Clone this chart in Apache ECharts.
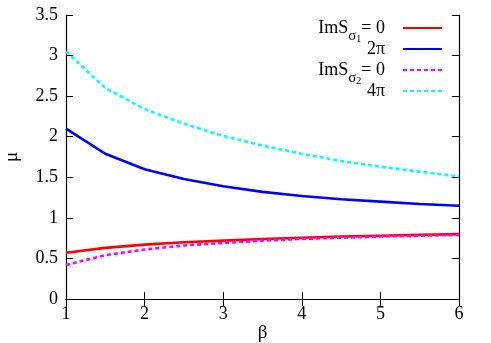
<!DOCTYPE html>
<html>
<head>
<meta charset="utf-8">
<script src="https://cdn.jsdelivr.net/npm/echarts@6/dist/echarts.min.js"></script>
<style>
  html, body { margin: 0; padding: 0; background: #fff; }
  #chart { width: 491px; height: 343px; }
</style>
</head>
<body>
<div id="chart"></div>
<script>
// beta values along x
const betaValues = [1, 1.5, 2, 2.5, 3, 3.5, 4, 4.5, 5, 5.5, 6]
// ImS_sigma1 = 0
const sigma1Zero = [0.57, 0.63, 0.67, 0.70, 0.72, 0.74, 0.755, 0.77, 0.78, 0.79, 0.80]
// ImS_sigma1 = 2pi
const sigma1TwoPi = [2.10, 1.79, 1.60, 1.48, 1.39, 1.32, 1.27, 1.23, 1.20, 1.17, 1.15]
// ImS_sigma2 = 0
const sigma2Zero = [0.42, 0.54, 0.61, 0.66, 0.69, 0.72, 0.74, 0.755, 0.77, 0.78, 0.79]
// ImS_sigma2 = 4pi
const sigma2FourPi = [3.05, 2.60, 2.34, 2.16, 2.01, 1.89, 1.79, 1.70, 1.63, 1.57, 1.51]

const font = 'Times New Roman'
const pairs = (ys) => betaValues.map((b, i) => [b, ys[i]])

// rows without subscripts carry invisible subscript tokens so every row has the same height
const legendNames = {
  s1z: '{a|ImS}{s|σ}{t|1}{a|= }{z|0}',
  s1p: '{hs|σ}{ht|1}{z|2π}',
  s2z: '{a|ImS}{s|σ}{t|2}{a|= }{z|0}',
  s2p: '{hs|σ}{ht|2}{z|4π}'
}

const makeLine = (name, color, ys, dashed) => ({
  name: name,
  type: 'line',
  data: pairs(ys),
  showSymbol: false,
  symbol: 'none',
  lineStyle: { color: color, width: 2.6, type: dashed ? [4, 3] : 'solid' },
  itemStyle: { color: color },
  z: dashed ? 3 : 2
})

const subS = { fontFamily: font, fontSize: 15, color: '#000', lineHeight: 14, padding: [8, 0, -8, 0] }
const subT = { fontFamily: font, fontSize: 10, color: '#000', lineHeight: 12, padding: [11, 0, -11, 0] }

const chart = echarts.init(document.getElementById('chart'))
const option = {
  animation: false,
  backgroundColor: '#fff',
  textStyle: { fontFamily: font },
  grid: { left: 66, right: 32, top: 15, bottom: 44, outerBoundsMode: 'none', containLabel: false },
  legend: {
    orient: 'vertical',
    right: 43,
    top: 14,
    align: 'right',
    itemWidth: 39,
    itemHeight: 14,
    itemGap: -4,
    itemStyle: { opacity: 0 },
    data: ['s1z', 's1p', 's2z', 's2p'],
    formatter: (n) => legendNames[n],
    textStyle: {
      fontFamily: font,
      color: '#000',
      rich: {
        a: { fontFamily: font, fontSize: 18, color: '#000', lineHeight: 20 },
        z: { fontFamily: font, fontSize: 18, color: '#000', lineHeight: 20, padding: [0, 13, 0, 0] },
        s: subS,
        t: subT,
        hs: Object.assign({}, subS, { color: 'rgba(0,0,0,0)' }),
        ht: Object.assign({}, subT, { color: 'rgba(0,0,0,0)' })
      }
    }
  },
  xAxis: [
    {
      type: 'value',
      min: 1,
      max: 6,
      interval: 1,
      name: 'β',
      nameLocation: 'middle',
      nameMoveOverlap: false,
      nameGap: 25,
      nameTextStyle: { fontFamily: font, fontSize: 19, color: '#000' },
      axisLine: { lineStyle: { color: '#000', width: 1.2 } },
      axisTick: { inside: true, length: 7, lineStyle: { color: '#000' } },
      axisLabel: { fontFamily: font, fontSize: 18, color: '#000', margin: 6 },
      splitLine: { show: false }
    },
    {
      type: 'value',
      position: 'top',
      min: 1,
      max: 6,
      interval: 1,
      axisLine: { lineStyle: { color: '#000', width: 1.2 } },
      axisTick: { inside: true, length: 7, lineStyle: { color: '#000' } },
      axisLabel: { show: false },
      splitLine: { show: false }
    }
  ],
  yAxis: [
    {
      type: 'value',
      min: 0,
      max: 3.5,
      interval: 0.5,
      name: 'μ',
      nameLocation: 'middle',
      nameMoveOverlap: false,
      nameRotate: 90,
      nameGap: 44,
      nameTextStyle: { fontFamily: font, fontSize: 19, color: '#000' },
      axisLine: { lineStyle: { color: '#000', width: 1.2 } },
      axisTick: { inside: true, length: 7, lineStyle: { color: '#000' } },
      axisLabel: { fontFamily: font, fontSize: 18, color: '#000', margin: 8 },
      splitLine: { show: false }
    },
    {
      type: 'value',
      position: 'right',
      min: 0,
      max: 3.5,
      interval: 0.5,
      axisLine: { show: true, lineStyle: { color: '#000', width: 1.2 } },
      axisTick: { show: true, inside: true, length: 7, lineStyle: { color: '#000' } },
      axisLabel: { show: false },
      splitLine: { show: false }
    }
  ],
  series: [
    makeLine('s1z', '#ff0000', sigma1Zero, false),
    makeLine('s1p', '#0000ff', sigma1TwoPi, false),
    makeLine('s2z', '#ff00ff', sigma2Zero, true),
    makeLine('s2p', '#00ffff', sigma2FourPi, true)
  ]
}
chart.setOption(option)
</script>
</body>
</html>
